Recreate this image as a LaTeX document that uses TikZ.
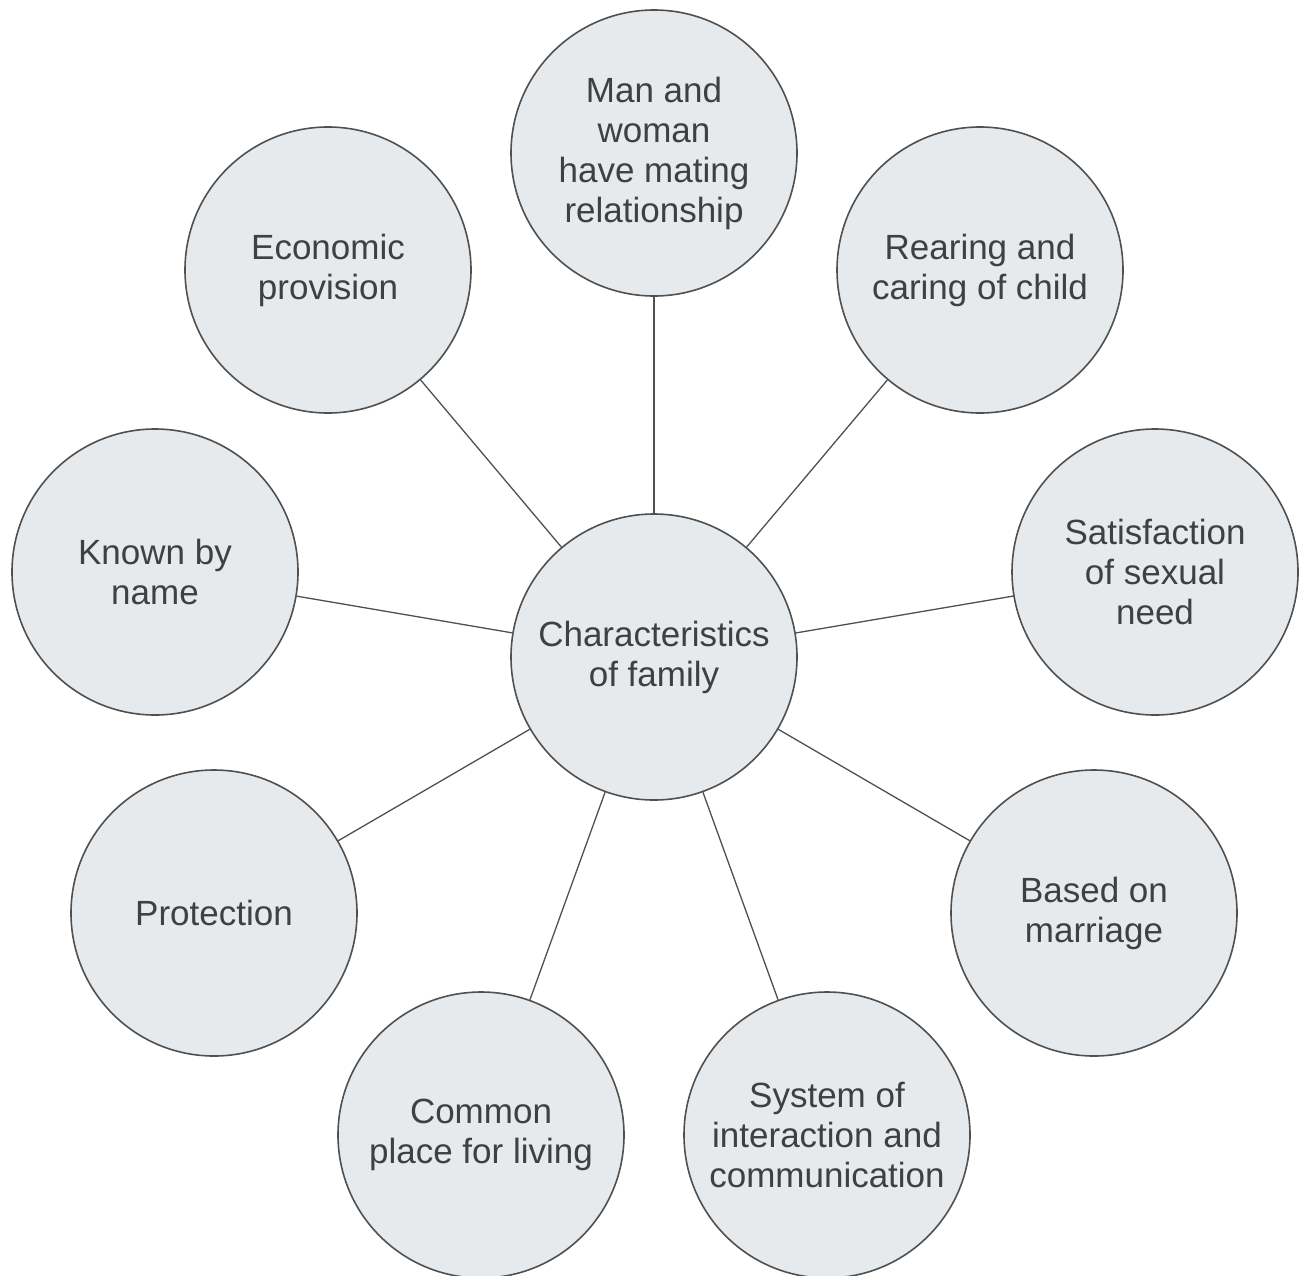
\documentclass[tikz,border=0pt]{standalone}
\usepackage{fontspec}
\setmainfont{Liberation Sans}
\definecolor{circfill}{HTML}{E6EAEC}
\definecolor{circline}{HTML}{505050}
\definecolor{txt}{HTML}{404040}
\begin{document}
\begin{tikzpicture}[x=1pt,y=-1pt,
  bubble/.style={circle,draw=circline,line width=1.6pt,fill=circfill,minimum size=286pt,inner sep=0pt,align=center,text=txt,font=\fontsize{35}{40}\selectfont},
  link/.style={draw=circline,line width=1.3pt}]
\useasboundingbox (0,0) rectangle (1300,1275);
\begin{scope}
\clip (0,0) rectangle (1300,1275);
\node[bubble] (c) at (654,657) {Characteristics\\of family};
\node[bubble] (top) at (654,153) {Man and\\woman\\have mating\\relationship};
\node[bubble] (eco) at (328,270) {Economic\\provision};
\node[bubble] (rear) at (980,270) {Rearing and\\caring of child};
\node[bubble] (known) at (155,572) {Known by\\name};
\node[bubble] (sat) at (1155,572) {Satisfaction\\of sexual\\need};
\node[bubble] (prot) at (214,913) {Protection};
\node[bubble] (mar) at (1094,913) {Based on\\marriage};
\node[bubble] (common) at (481,1135) {Common\\place for living};
\node[bubble] (sys) at (827,1135) {System of\\interaction and\\communication};
\foreach \n in {top,eco,rear,known,sat,prot,mar,common,sys}
  \draw[link] (c) -- (\n);
\end{scope}
\end{tikzpicture}
\end{document}
